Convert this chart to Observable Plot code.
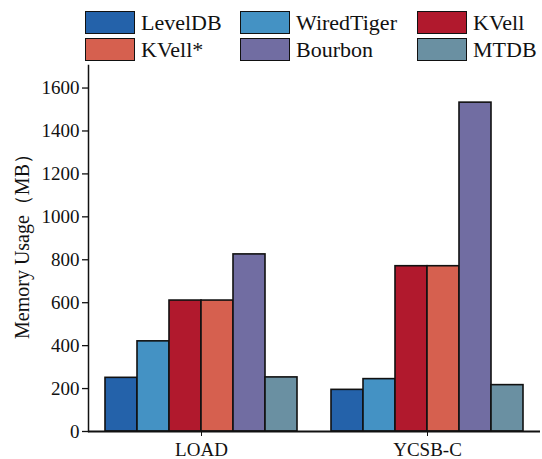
<!DOCTYPE html>
<html><head><meta charset="utf-8">
<script src="https://cdn.jsdelivr.net/npm/d3@7"></script>
<script src="https://cdn.jsdelivr.net/npm/@observablehq/plot@0.6"></script>
<style>
html,body{margin:0;padding:0;background:#fff;}
body{font-family:"Times New Roman","Liberation Serif",Tinos,Times,serif;width:542px;}
#legend{box-sizing:border-box;height:60px;width:542px;padding:11px 0 0 85px;display:grid;
  grid-template-columns:155px 177px 125px;grid-auto-rows:23px;row-gap:4px;}
.item{display:flex;align-items:center;font-size:22px;color:#111;white-space:nowrap;}
.sw{box-sizing:border-box;width:50px;height:23px;border:1.6px solid #111;margin-right:6px;flex:none;}
#chart svg{display:block;}
</style></head><body>
<div id="legend"></div><div id="chart"></div>
<script>
const workloads = ["LOAD", "YCSB-C"];
const systems = ["LevelDB", "WiredTiger", "KVell", "KVell*", "Bourbon", "MTDB"];
const colors = ["#2462aa", "#4492c4", "#b1192d", "#d6604f", "#716da2", "#6a90a2"];
const loadValues = [250, 420, 610, 610, 825, 252];
const ycsbcValues = [194, 244, 770, 770, 1532, 216];
const yTicks = [0, 200, 400, 600, 800, 1000, 1200, 1400, 1600];
const yLabel = "Memory Usage（MB）";

const seriesByWorkload = [loadValues, ycsbcValues];
const data = workloads.flatMap((w, i) => systems.map((s, j) => ({workload: w, system: s, value: seriesByWorkload[i][j]})));

const legend = document.getElementById("legend");
systems.forEach((s, i) => {
  const it = document.createElement("div");
  it.className = "item";
  const sw = document.createElement("div");
  sw.className = "sw";
  sw.style.background = colors[i];
  it.appendChild(sw);
  it.appendChild(document.createTextNode(s));
  legend.appendChild(it);
});

const chart = Plot.plot({
  width: 542,
  height: 399,
  marginTop: 5,
  marginBottom: 28,
  marginLeft: 87,
  marginRight: 2,
  style: {fontFamily: '"Times New Roman","Liberation Serif",Tinos,Times,serif', fontSize: "19px", background: "white", color: "#111"},
  fx: {domain: workloads, padding: 0, label: null},
  x: {domain: systems, paddingInner: 0, paddingOuter: 0.5, axis: null},
  y: {domain: [0, 1705], ticks: yTicks, label: null},
  color: {domain: systems, range: colors},
  marks: [
    Plot.barY(data, {fx: "workload", x: "system", y: "value", fill: "system", stroke: "#111", strokeWidth: 1.6, inset: 0}),
    Plot.ruleY([0], {stroke: "#111", strokeWidth: 2.2}),
    Plot.frame({anchor: "left", facetAnchor: "left", stroke: "#111", strokeWidth: 1.5}),
    Plot.axisY({ticks: yTicks, tickSize: 6, tickPadding: 3, tickFormat: d => String(d), label: null, stroke: "#111", strokeWidth: 1.3}),
    Plot.text([yLabel], {text: d => d, frameAnchor: "left", facetAnchor: "left", textAnchor: "middle", lineAnchor: "middle", rotate: -90, dx: -66, dy: -7, fontSize: 20, fill: "#111"}),
    Plot.axisFx({anchor: "bottom", tickSize: 5, tickPadding: 6, label: null, stroke: "#111"})
  ]
});
document.getElementById("chart").appendChild(chart);
</script>
</body></html>
